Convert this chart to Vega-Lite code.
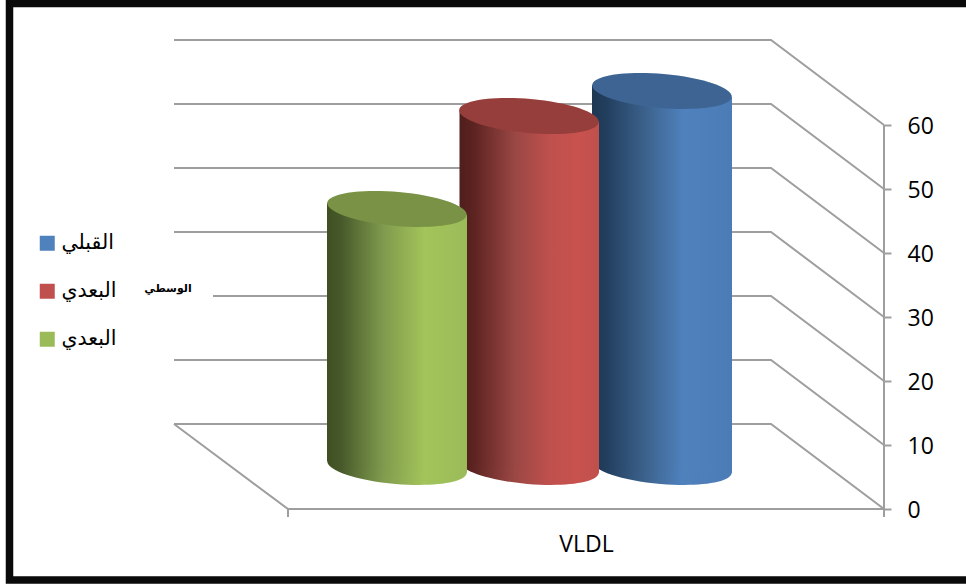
{
"$schema":"https://vega.github.io/schema/vega-lite/v6.json",
"width":966,"height":585,"autosize":{"type":"none"},"padding":0,"background":"white",
"config":{"view":{"stroke":null}},
"datasets":{
"walls":[
{"g":"f0","o":1,"x":174,"v":13.28},{"g":"f0","o":2,"x":771,"v":13.28},{"g":"f0","o":3,"x":884,"v":0},{"g":"f0","o":4,"x":288,"v":0},{"g":"f0","o":5,"x":174,"v":13.28},
{"g":"w10","o":1,"x":174,"v":23.28},{"g":"w10","o":2,"x":771,"v":23.28},{"g":"w10","o":3,"x":884,"v":10},
{"g":"w20","o":1,"x":213,"v":33.28},{"g":"w20","o":2,"x":771,"v":33.28},{"g":"w20","o":3,"x":884,"v":20},
{"g":"w30","o":1,"x":174,"v":43.28},{"g":"w30","o":2,"x":771,"v":43.28},{"g":"w30","o":3,"x":884,"v":30},
{"g":"w40","o":1,"x":174,"v":53.28},{"g":"w40","o":2,"x":771,"v":53.28},{"g":"w40","o":3,"x":884,"v":40},
{"g":"w50","o":1,"x":174,"v":63.28},{"g":"w50","o":2,"x":771,"v":63.28},{"g":"w50","o":3,"x":884,"v":50},
{"g":"w60","o":1,"x":174,"v":73.28},{"g":"w60","o":2,"x":771,"v":73.28},{"g":"w60","o":3,"x":884,"v":60},
{"g":"axis","o":1,"x":884,"v":0},{"g":"axis","o":2,"x":884,"v":60},
{"g":"t1","o":1,"x":288,"v":0},{"g":"t1","o":2,"x":288,"v":-1.25},
{"g":"t2","o":1,"x":884,"v":0},{"g":"t2","o":2,"x":884,"v":-1.25}
],
"frame":[
{"o":1,"x":966,"v":78.98},{"o":2,"x":9.5,"v":78.98},{"o":3,"x":9.5,"v":-11.09},{"o":4,"x":966,"v":-11.09}
],
"cyl":[
{"series":"القبلي","x":662,"top":65.31,"base":6.56},
{"series":"الوسطي","x":529,"top":61.4,"base":6.56},
{"series":"البعدي","x":397,"top":46.88,"base":6.56}
],
"edges":[
{"series":"القبلي","x":592,"top":66.25,"base":7.5},{"series":"القبلي","x":732,"top":64.38,"base":5.63},
{"series":"الوسطي","x":459.5,"top":62.34,"base":7.5},{"series":"الوسطي","x":599,"top":60.47,"base":5.63},
{"series":"البعدي","x":327,"top":47.81,"base":7.5},{"series":"البعدي","x":467,"top":45.94,"base":5.63}
],
"note":[{"x":168,"v":34.3,"label":"الوسطي"}]
},
"layer":[
{"data":{"name":"frame"},"mark":{"type":"line","color":"#0a0a0a","strokeWidth":7.5,"clip":false},
 "encoding":{"x":{"field":"x","type":"quantitative","scale":{"domain":[0,966],"nice":false,"zero":false},
   "axis":{"values":[586],"labelExpr":"'VLDL'","ticks":false,"domain":false,"grid":false,"title":null,"offset":-52,"labelFont":"Open Sans","labelFontSize":23,"labelColor":"#000","labelPadding":0,"labelFlush":false,"labelOverlap":false}},
  "y":{"field":"v","type":"quantitative","scale":{"domain":[-11.875,79.53],"nice":false,"zero":false},
   "axis":{"orient":"right","values":[0,10,20,30,40,50,60],"offset":-82,"domain":false,"grid":false,"title":null,"tickSize":7,"tickWidth":2,"tickColor":"#9e9e9e","labelFont":"Open Sans","labelFontSize":23,"labelColor":"#000","labelPadding":16,"labelOffset":2,"labelFlush":false,"labelOverlap":false}},
  "order":{"field":"o","type":"quantitative"}}},
{"data":{"name":"walls"},"mark":{"type":"line","color":"#9e9e9e","strokeWidth":2},
 "encoding":{"x":{"field":"x","type":"quantitative"},"y":{"field":"v","type":"quantitative"},"detail":{"field":"g"},"order":{"field":"o","type":"quantitative"}}},

{"data":{"name":"cyl"},"transform":[{"filter":"datum.series == 'القبلي'"}],"mark":{"type":"point","filled":true,"opacity":1,"strokeWidth":0,"angle":5,"shape":"M-1,0A1,0.243,0,1,1,1,0A1,0.243,0,1,1,-1,0Z","size":19600,
  "fill":{"gradient":"linear","x1":0,"x2":1,"y1":0,"y2":0,"stops":[{"offset":0,"color":"#1e3852"},{"offset":0.1,"color":"#223e5e"},{"offset":0.4,"color":"#3d648f"},{"offset":0.65,"color":"#4f81bd"},{"offset":1,"color":"#4c7cb6"}]}},
 "encoding":{"x":{"field":"x","type":"quantitative"},"y":{"field":"base","type":"quantitative"}}},
{"data":{"name":"edges"},"transform":[{"filter":"datum.series == 'القبلي'"}],"mark":{"type":"area",
  "fill":{"gradient":"linear","x1":0,"x2":1,"y1":0,"y2":0,"stops":[{"offset":0,"color":"#1e3852"},{"offset":0.1,"color":"#223e5e"},{"offset":0.4,"color":"#3d648f"},{"offset":0.65,"color":"#4f81bd"},{"offset":1,"color":"#4c7cb6"}]}},
 "encoding":{"x":{"field":"x","type":"quantitative"},"y":{"field":"top","type":"quantitative"},"y2":{"field":"base"}}},

{"data":{"name":"cyl"},"transform":[{"filter":"datum.series == 'الوسطي'"}],"mark":{"type":"point","filled":true,"opacity":1,"strokeWidth":0,"angle":5,"shape":"M-1,0A1,0.243,0,1,1,1,0A1,0.243,0,1,1,-1,0Z","size":19600,
  "fill":{"gradient":"linear","x1":0,"x2":1,"y1":0,"y2":0,"stops":[{"offset":0,"color":"#4f1e1c"},{"offset":0.1,"color":"#5c2321"},{"offset":0.4,"color":"#9a4744"},{"offset":0.65,"color":"#bf504d"},{"offset":0.85,"color":"#c8524e"},{"offset":1,"color":"#c0504d"}]}},
 "encoding":{"x":{"field":"x","type":"quantitative"},"y":{"field":"base","type":"quantitative"}}},
{"data":{"name":"edges"},"transform":[{"filter":"datum.series == 'الوسطي'"}],"mark":{"type":"area",
  "fill":{"gradient":"linear","x1":0,"x2":1,"y1":0,"y2":0,"stops":[{"offset":0,"color":"#4f1e1c"},{"offset":0.1,"color":"#5c2321"},{"offset":0.4,"color":"#9a4744"},{"offset":0.65,"color":"#bf504d"},{"offset":0.85,"color":"#c8524e"},{"offset":1,"color":"#c0504d"}]}},
 "encoding":{"x":{"field":"x","type":"quantitative"},"y":{"field":"top","type":"quantitative"},"y2":{"field":"base"}}},

{"data":{"name":"cyl"},"transform":[{"filter":"datum.series == 'البعدي'"}],"mark":{"type":"point","filled":true,"opacity":1,"strokeWidth":0,"angle":5,"shape":"M-1,0A1,0.243,0,1,1,1,0A1,0.243,0,1,1,-1,0Z","size":19600,
  "fill":{"gradient":"linear","x1":0,"x2":1,"y1":0,"y2":0,"stops":[{"offset":0,"color":"#3f4f22"},{"offset":0.1,"color":"#47592a"},{"offset":0.4,"color":"#7f9a4d"},{"offset":0.7,"color":"#a3c45a"},{"offset":1,"color":"#9bbb59"}]}},
 "encoding":{"x":{"field":"x","type":"quantitative"},"y":{"field":"base","type":"quantitative"}}},
{"data":{"name":"edges"},"transform":[{"filter":"datum.series == 'البعدي'"}],"mark":{"type":"area",
  "fill":{"gradient":"linear","x1":0,"x2":1,"y1":0,"y2":0,"stops":[{"offset":0,"color":"#3f4f22"},{"offset":0.1,"color":"#47592a"},{"offset":0.4,"color":"#7f9a4d"},{"offset":0.7,"color":"#a3c45a"},{"offset":1,"color":"#9bbb59"}]}},
 "encoding":{"x":{"field":"x","type":"quantitative"},"y":{"field":"top","type":"quantitative"},"y2":{"field":"base"}}},

{"data":{"name":"cyl"},"mark":{"type":"point","filled":true,"opacity":1,"strokeWidth":0,"angle":5,"shape":"M-1,0A1,0.243,0,1,1,1,0A1,0.243,0,1,1,-1,0Z","size":19600},
 "encoding":{"x":{"field":"x","type":"quantitative"},"y":{"field":"top","type":"quantitative"},
  "color":{"field":"series","type":"nominal","sort":["القبلي","الوسطي","البعدي"],"scale":{"domain":["القبلي","الوسطي","البعدي"],"range":["#4f81bd","#c0504d","#9bbb59"]},
   "legend":{"orient":"none","legendX":37,"legendY":233,"title":null,"symbolType":"square","symbolSize":225,"symbolStrokeWidth":0,"symbolOpacity":1,"labelFont":"DejaVu Sans","labelFontSize":20.5,"labelColor":"#000","labelOffset":4,"rowPadding":27,"labelExpr":"datum.label == 'الوسطي' ? 'البعدي' : datum.label"}}}},
{"data":{"name":"cyl"},"mark":{"type":"point","filled":true,"opacity":0.22,"color":"#000","strokeWidth":0,"angle":5,"shape":"M-1,0A1,0.243,0,1,1,1,0A1,0.243,0,1,1,-1,0Z","size":19600},
 "encoding":{"x":{"field":"x","type":"quantitative"},"y":{"field":"top","type":"quantitative"}}},
{"data":{"name":"note"},"mark":{"type":"text","font":"DejaVu Sans","fontWeight":"bold","fontSize":11,"color":"#000"},
 "encoding":{"x":{"field":"x","type":"quantitative"},"y":{"field":"v","type":"quantitative"},"text":{"field":"label"}}}
]
}
